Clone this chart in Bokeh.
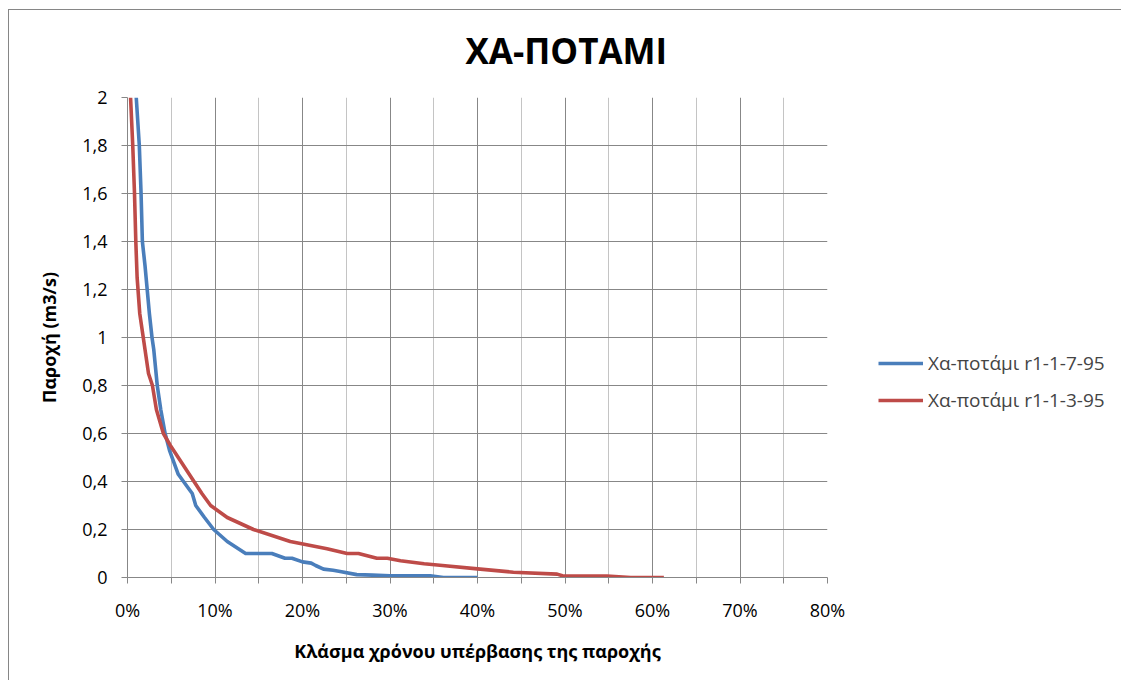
from bokeh.plotting import figure
from bokeh.models import (Range1d, FixedTicker, Legend, LegendItem, Title)
from bokeh.embed import file_html
from bokeh.resources import INLINE

# ---- data ----
blue_name = "Χα-ποτάμι r1-1-7-95"
blue_x = [1.0, 1.35, 1.55, 1.7, 2.0, 2.25, 2.5, 2.8, 3.0, 3.4, 3.8, 4.3, 4.8, 5.3, 5.8,
          6.4, 7.0, 7.4, 7.8, 8.8, 9.85, 11.4, 13.5, 16.5, 18.0, 18.8, 20.0, 21.0, 21.5,
          22.4, 23.5, 24.3, 26.2, 28.0, 30.0, 34.6, 36.1, 40.0]
blue_y = [2.0, 1.8, 1.6, 1.4, 1.3, 1.2, 1.1, 1.0, 0.95, 0.8, 0.7, 0.6, 0.53, 0.48, 0.43,
          0.4, 0.37, 0.35, 0.3, 0.25, 0.2, 0.15, 0.1, 0.1, 0.08, 0.08, 0.065, 0.06, 0.05,
          0.035, 0.03, 0.025, 0.012, 0.01, 0.007, 0.007, 0.0, 0.0]

red_name = "Χα-ποτάμι r1-1-3-95"
red_x = [0.35, 0.6, 0.8, 0.95, 1.1, 1.4, 1.8, 2.4, 2.85, 3.3, 4.1, 4.9, 5.8, 6.7, 7.6,
         8.5, 9.5, 11.4, 14.4, 18.6, 22.8, 25.1, 26.4, 28.5, 29.7, 31.2, 33.9, 36.0,
         40.0, 44.1, 49.1, 49.7, 54.8, 57.5, 61.3]
red_y = [2.0, 1.8, 1.6, 1.4, 1.25, 1.1, 1.0, 0.85, 0.8, 0.7, 0.6, 0.55, 0.5, 0.45, 0.4,
         0.35, 0.3, 0.25, 0.2, 0.15, 0.12, 0.1, 0.1, 0.08, 0.08, 0.07, 0.057, 0.05,
         0.036, 0.022, 0.014, 0.007, 0.006, 0.0, 0.0]

x_ticks = [0, 10, 20, 30, 40, 50, 60, 70, 80]
x_minor_ticks = [5, 15, 25, 35, 45, 55, 65, 75]
x_tick_labels = ["0%", "10%", "20%", "30%", "40%", "50%", "60%", "70%", "80%"]
y_ticks = [0, 0.2, 0.4, 0.6, 0.8, 1, 1.2, 1.4, 1.6, 1.8, 2]
y_tick_labels = ["0", "0,2", "0,4", "0,6", "0,8", "1", "1,2", "1,4", "1,6", "1,8", "2"]

title_text = "ΧΑ-ΠΟΤΑΜΙ"
x_label = "Κλάσμα χρόνου υπέρβασης της παροχής"
y_label = "Παροχή (m3/s)"

# ---- styles ----
FONT = "Open Sans"
BLUE = "#4A7EBB"
RED = "#BE4B48"
DARK = "#878787"
LIGHT = "#C4C4C4"

p = figure(frame_width=700, frame_height=480, output_backend="svg", toolbar_location=None,
           x_range=Range1d(0, 80), y_range=Range1d(0, 2),
           min_border_left=118, min_border_top=87, min_border_right=0,
           min_border_bottom=103, margin=(9, 0, 0, 8),
           styles={"border-left": "1px solid #868686", "border-top": "1px solid #868686"})
p.outline_line_color = None
p.background_fill_color = "white"
p.border_fill_color = "white"

xt = FixedTicker(ticks=x_ticks, minor_ticks=x_minor_ticks)
yt = FixedTicker(ticks=y_ticks, minor_ticks=[])
p.xaxis.ticker = xt
p.yaxis.ticker = yt
p.xgrid.ticker = xt
p.ygrid.ticker = yt

p.xaxis.major_label_overrides = dict(zip(x_ticks, x_tick_labels))
p.yaxis.major_label_overrides = dict(zip(y_ticks, y_tick_labels))

for ax in (p.xaxis[0], p.yaxis[0]):
    ax.axis_line_color = DARK
    ax.major_tick_line_color = DARK
    ax.minor_tick_line_color = DARK
    ax.major_tick_in = 0
    ax.major_tick_out = 6
    ax.minor_tick_in = 0
    ax.minor_tick_out = 6
    ax.major_label_text_font = FONT
    ax.major_label_text_font_size = "18px"
    ax.major_label_text_color = "black"
    ax.axis_label_text_font = FONT
    ax.axis_label_text_font_size = "18px"
    ax.axis_label_text_font_style = "bold"
    ax.axis_label_text_color = "black"

p.xaxis.axis_label = x_label
p.yaxis.axis_label = y_label
p.xaxis.major_label_standoff = 14
p.yaxis.major_label_standoff = 14
p.xaxis.axis_label_standoff = 14
p.yaxis.axis_label_standoff = 18

p.xgrid.grid_line_color = DARK
p.xgrid.minor_grid_line_color = LIGHT
p.ygrid.grid_line_color = DARK

rb = p.line(blue_x, blue_y, line_color=BLUE, line_width=3.6, line_join="round")
rr = p.line(red_x, red_y, line_color=RED, line_width=3.6, line_join="round")

legend = Legend(items=[LegendItem(label=blue_name, renderers=[rb]),
                       LegendItem(label=red_name, renderers=[rr])],
                location=(51, 164), padding=0, margin=0, spacing=11,
                glyph_width=45, glyph_height=20, label_height=20, label_standoff=5,
                label_text_font=FONT, label_text_font_size="19px",
                border_line_color=None, background_fill_alpha=0)
p.add_layout(legend, "right")

# spacer between frame and title (closest to frame), then the real title
p.title = None
p.add_layout(Title(text=" ", text_font_size="1px", standoff=21), "above")
p.add_layout(Title(text=title_text, align="left", offset=338, standoff=0,
                   text_font=FONT, text_font_size="35px", text_font_style="bold",
                   text_color="black"), "above")

open("out.html", "w").write(file_html(p, INLINE))
